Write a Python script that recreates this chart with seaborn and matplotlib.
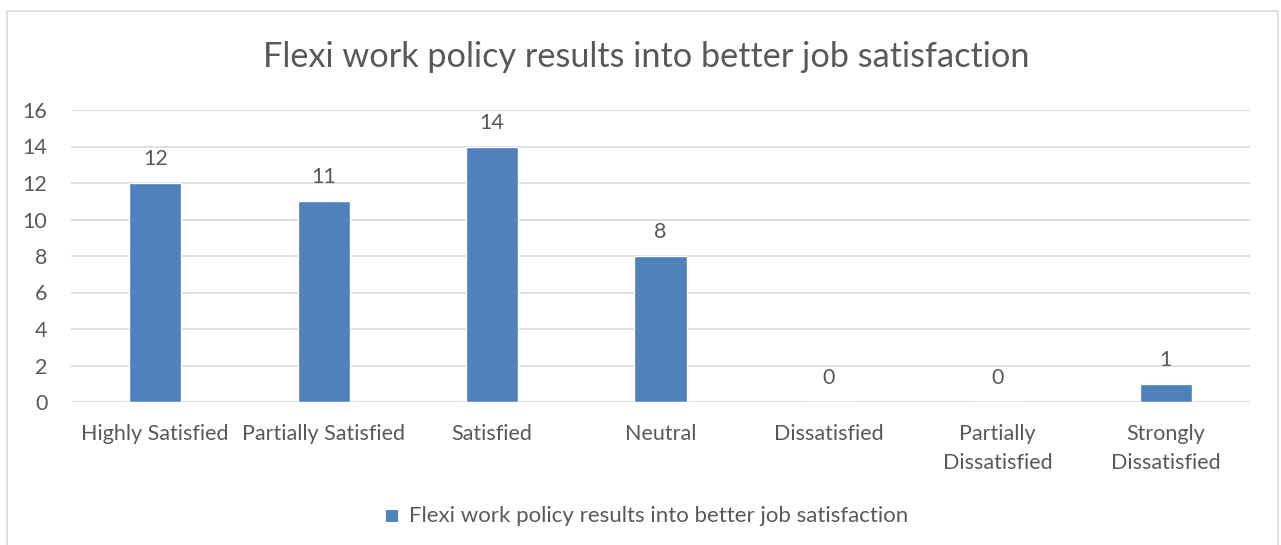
import matplotlib
matplotlib.use("Agg")
import matplotlib.pyplot as plt
from matplotlib.patches import Rectangle
import seaborn as sns
import pandas as pd

title = "Flexi work policy results into better job satisfaction"
categories = ["Highly Satisfied", "Partially Satisfied", "Satisfied", "Neutral",
              "Dissatisfied", "Partially\nDissatisfied", "Strongly\nDissatisfied"]
values = [12, 11, 14, 8, 0, 0, 1]
yticks = [0, 2, 4, 6, 8, 10, 12, 14, 16]

bar_color = "#4F81BD"
text_color = "#595959"
grid_color = "#D9D9D9"

sns.set_theme(style="white")
plt.rcParams["font.family"] = ["Lato", "DejaVu Sans"]

W, H = 1281, 545
fig = plt.figure(figsize=(W / 100, H / 100), dpi=100)
ax = fig.add_axes([71 / W, 1 - 402 / H, (1250 - 71) / W, (402 - 110) / H])

df = pd.DataFrame({"category": categories, "count": values})
sns.barplot(data=df, x="category", y="count", color=bar_color, width=0.31,
            saturation=1, ax=ax, zorder=3)

ax.set_ylim(0, 16)
ax.set_yticks(yticks)
ax.set_xlim(-0.5, len(categories) - 0.5)
ax.yaxis.grid(True, color=grid_color, linewidth=1.2, zorder=0)
ax.set_axisbelow(True)
for s in ax.spines.values():
    s.set_visible(False)
ax.tick_params(axis="both", length=0, labelsize=15.5, colors=text_color)
ax.tick_params(axis="x", pad=16)
ax.tick_params(axis="y", pad=17)
for lbl in ax.get_xticklabels():
    lbl.set_linespacing(1.55)
ax.set_xlabel("")
ax.set_ylabel("")

ax.bar_label(ax.containers[0], labels=[str(v) for v in values], padding=10,
             fontsize=15.5, color=text_color)

fig.text(646 / W, 1 - 57 / H, title, ha="center", va="center",
         fontsize=24.7, color=text_color)

# legend
fig.patches.append(Rectangle((386 / W, 1 - 522 / H), 12 / W, 12 / H,
                             transform=fig.transFigure, facecolor=bar_color,
                             edgecolor="none"))
fig.text(409 / W, 1 - 516 / H, title, ha="left", va="center",
         fontsize=16, color=text_color)

# chart frame
fig.patches.append(Rectangle((7 / W, -0.02), (1278 - 7) / W, (H - 11) / H + 0.02,
                             transform=fig.transFigure, facecolor="none",
                             edgecolor=grid_color, linewidth=1.2))

fig.savefig("out.png", dpi=100)
